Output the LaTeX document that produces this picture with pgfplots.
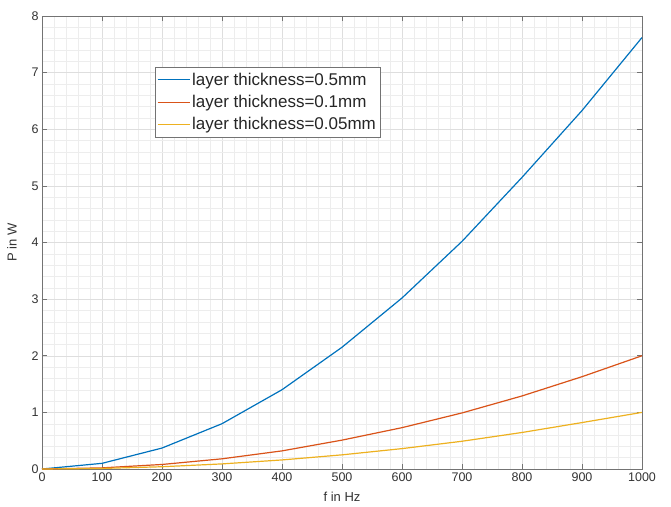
\documentclass[border=0pt]{standalone}
\usepackage{pgfplots}
\pgfplotsset{compat=1.18}
\usepackage{fontspec}
\setmainfont{Liberation Sans}
\definecolor{mblue}{rgb}{0,0.447,0.741}
\definecolor{mred}{rgb}{0.85,0.325,0.098}
\definecolor{myellow}{rgb}{0.929,0.694,0.125}
\definecolor{axgray}{rgb}{0.45,0.45,0.45}
\definecolor{txtgray}{rgb}{0.2,0.2,0.2}
\begin{document}
\begin{tikzpicture}
\path[use as bounding box] (-42pt,-37pt) rectangle (629pt,469pt);
\begin{axis}[
  at={(0,0)}, anchor=south west,
  scale only axis, width=600pt, height=453pt,
  xmin=0, xmax=1000, ymin=0, ymax=8,
  xtick={0,100,...,1000}, ytick={0,1,...,8},
  minor tick num=4,
  grid=both,
  major grid style={draw=black!13, line width=0.5pt},
  minor grid style={draw=black!7, line width=0.4pt},
  axis line style={draw=axgray, line width=0.6pt},
  tick style={draw=axgray, line width=0.6pt},
  major tick length=5pt, minor tick length=0pt,
  tick align=inside,
  xtick pos=both, ytick pos=both,
  /pgf/number format/assume math mode=true,
  /pgf/number format/set thousands separator={},
  ticklabel style={font=\fontsize{12.5}{14}\selectfont, text=txtgray},
  xlabel={f in Hz}, ylabel={P in W},
  label style={font=\fontsize{13}{15}\selectfont, text=txtgray},
  xlabel style={yshift=-4pt},
  ylabel style={yshift=8pt},
  legend style={at={(0.188,0.887)}, anchor=north west,
    draw=black!55, line width=0.5pt, fill=white,
    font=\fontsize{17}{19}\selectfont, text=black!85,
    inner xsep=2pt, inner ysep=3.5pt, row sep=4.5pt},
  legend cell align=left,
  legend image code/.code={\draw[#1, line width=1.1pt] (0pt,0pt) -- (32pt,0pt);},
]
\addplot[mblue, line width=1.2pt] coordinates {
(0,0) (100,0.10) (200,0.37) (300,0.80) (400,1.40) (500,2.15) (600,3.02) (700,4.02) (800,5.15) (900,6.33) (1000,7.62)};
\addlegendentry{layer thickness=0.5mm}
\addplot[mred, line width=1.2pt] coordinates {
(0,0) (100,0.02) (200,0.08) (300,0.18) (400,0.32) (500,0.51) (600,0.73) (700,0.99) (800,1.29) (900,1.63) (1000,2.00)};
\addlegendentry{layer thickness=0.1mm}
\addplot[myellow, line width=1.2pt] coordinates {
(0,0) (100,0.01) (200,0.04) (300,0.09) (400,0.16) (500,0.25) (600,0.36) (700,0.49) (800,0.645) (900,0.82) (1000,1.00)};
\addlegendentry{layer thickness=0.05mm}
\end{axis}
\end{tikzpicture}
\end{document}
